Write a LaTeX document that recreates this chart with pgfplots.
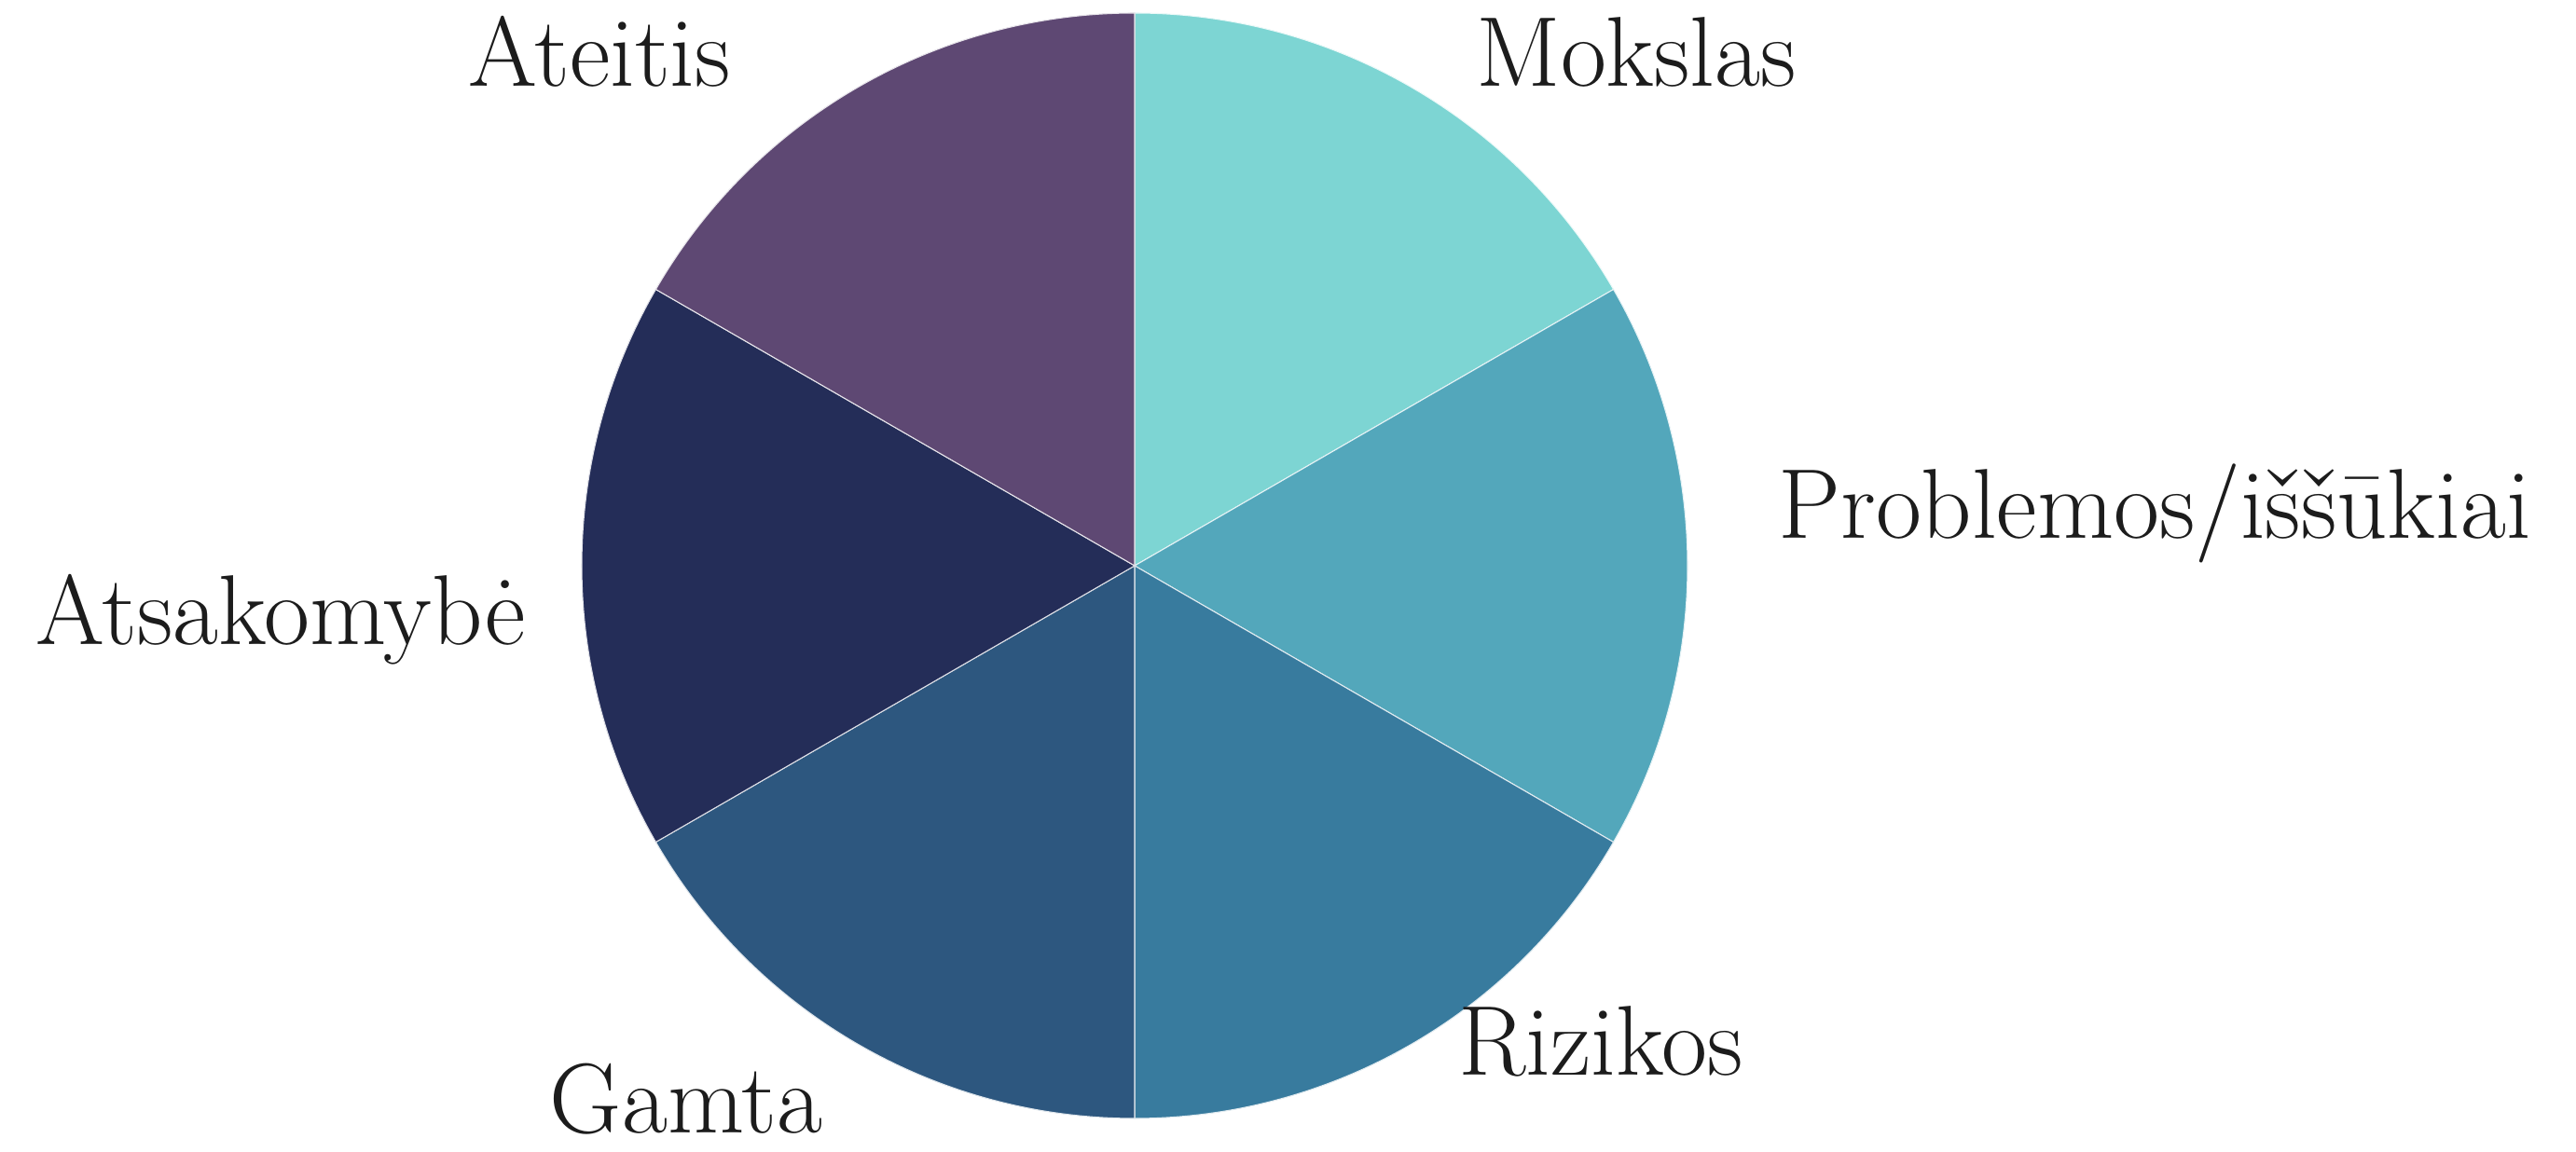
\documentclass[border=0pt]{standalone}
\usepackage{fontspec}
\usepackage{pgfplots}
\pgfplotsset{compat=1.18}
\definecolor{sA}{HTML}{7DD5D3}
\definecolor{sB}{HTML}{53A7BB}
\definecolor{sC}{HTML}{387B9E}
\definecolor{sD}{HTML}{2D577F}
\definecolor{sE}{HTML}{242D58}
\definecolor{sF}{HTML}{5E4873}
\definecolor{txt}{HTML}{1C1C1C}
\newcommand{\lab}{\fontsize{30.3}{36}\selectfont\addfontfeature{LetterSpace=3}}
\begin{document}
\begin{tikzpicture}
\begin{axis}[
  scale only axis, width=27.63cm, height=12.36cm,
  xmin=0, xmax=2763, ymin=0, ymax=1236,
  hide axis, clip=false,
]
\path (axis cs:0,0) rectangle (axis cs:2763,1236);
% slice values (equal shares), drawn clockwise from 12 o'clock
\foreach \v/\c [remember=\e as \s (initially 90)] in {1/sA,1/sB,1/sC,1/sD,1/sE,1/sF} {
  \pgfmathsetmacro{\e}{\s-360*\v/6}
  \edef\temp{\noexpand\fill[\c, draw=white!85!\c, line width=0.3pt, line join=round]
    (axis cs:1217,629) -- ++(\s:5.93cm) arc[start angle=\s, end angle=\e, radius=5.93cm] -- cycle;}
  \temp
}
\begin{scope}[every node/.style={anchor=base, text=txt, font=\lab, inner sep=0pt}]
\node at (axis cs:1755,1143) {Mokslas};
\node at (axis cs:2311,658) {Problemos/iššūkiai};
\node at (axis cs:1717,82) {Rizikos};
\node at (axis cs:736,20) {Gamta};
\node at (axis cs:301,544) {Atsakomybė};
\node at (axis cs:643,1143) {Ateitis};
\end{scope}
\end{axis}
\end{tikzpicture}
\end{document}
